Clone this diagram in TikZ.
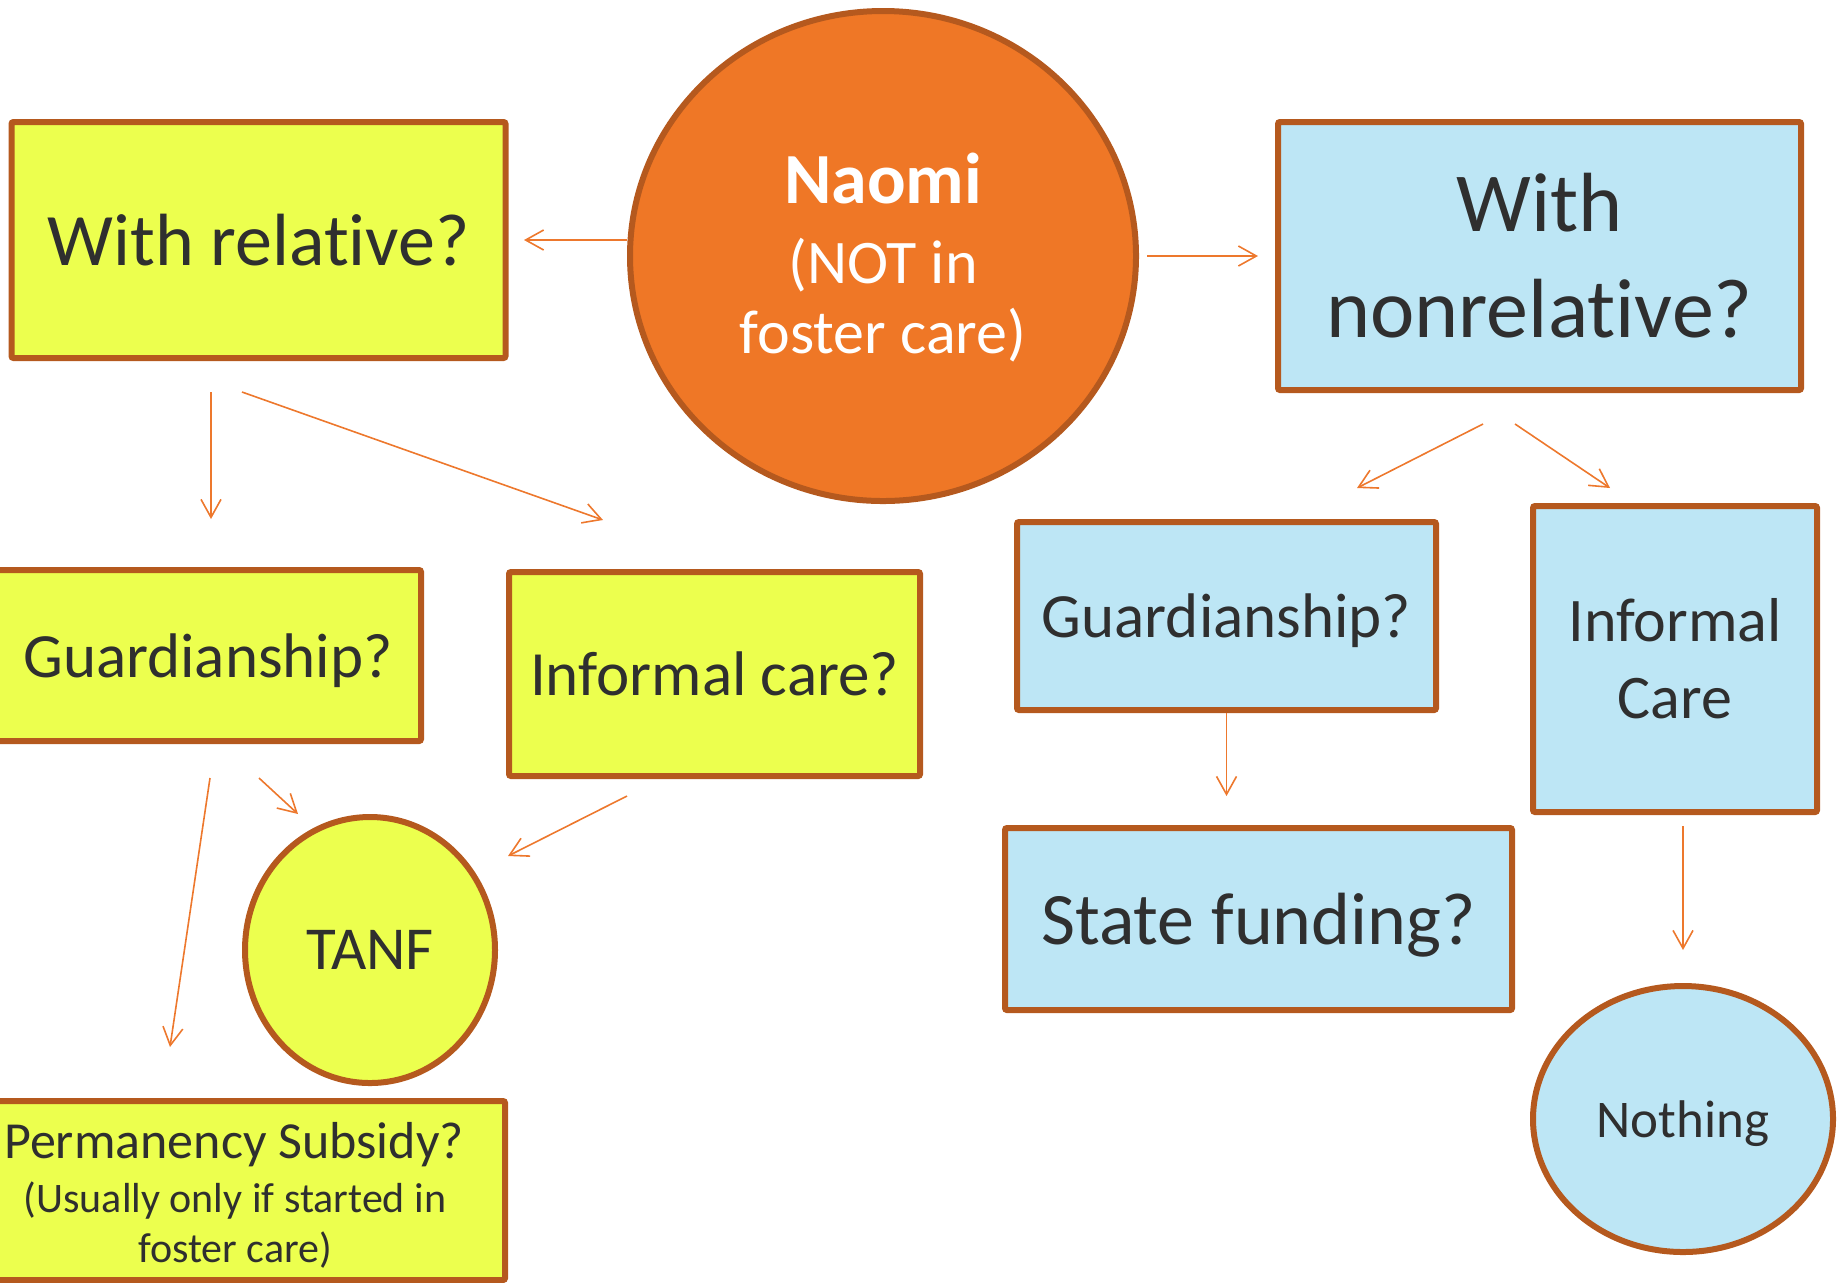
\documentclass[tikz,border=0pt]{standalone}
\usepackage{fontspec}
\setmainfont{Carlito}[RawFeature={-liga;-clig;-calt}]
\usetikzlibrary{arrows.meta,shapes.geometric,calc}
\definecolor{yelF}{RGB}{236,255,78}
\definecolor{bluF}{RGB}{189,230,245}
\definecolor{oraF}{RGB}{239,119,38}
\definecolor{brdC}{RGB}{181,89,30}
\definecolor{arrC}{RGB}{237,120,45}
\definecolor{txtC}{RGB}{47,47,47}
\tikzset{
  ybox/.style={rectangle, draw=brdC, line width=3pt, fill=yelF, text=txtC, inner sep=0pt, outer sep=0pt, align=center, rounded corners=1pt},
  bbox/.style={rectangle, draw=brdC, line width=3pt, fill=bluF, text=txtC, inner sep=0pt, outer sep=0pt, align=center, rounded corners=1pt},
  oval/.style={ellipse, draw=brdC, line width=3pt, text=txtC, inner sep=0pt, outer sep=0pt, align=center},
  lineText/.style={inner sep=0pt, anchor=base},
  arr/.style={draw=arrC, line width=0.8pt, -{Straight Barb[length=9pt,width=10pt,line width=0.8pt]}},
}
\begin{document}
\begin{tikzpicture}[x=0.5pt,y=-0.5pt]
\useasboundingbox (0,0) rectangle (1839,1282);
% nodes
\node[oval, fill=oraF, minimum width=253pt, minimum height=245pt] (naomi) at (883,256) {};
\node[lineText, text=white, font=\fontsize{36}{40}\selectfont\bfseries] (naomiA) at (883,203) {Naomi};
\node[lineText, text=white, font=\fontsize{31}{36}\selectfont] (naomiB) at (883,283) {(NOT in};
\node[lineText, text=white, font=\fontsize{31}{36}\selectfont] (naomiC) at (883,353) {foster care)};
\node[ybox, minimum width=247pt, minimum height=118pt, font=\fontsize{37}{44}\selectfont] (withrel) at (258.5,240) {With relative?};
\node[bbox, minimum width=261.5pt, minimum height=134pt, font=\fontsize{42}{53}\selectfont] (withnon) at (1539.5,256) {With\\nonrelative?};
\node[ybox, minimum width=213pt, minimum height=85.5pt, text depth=0pt, font=\fontsize{31.5}{38}\selectfont] (guardrel) at (208,655.5) {Guardianship?};
\node[ybox, minimum width=205.5pt, minimum height=102pt, font=\fontsize{31.5}{38}\selectfont] (infrel) at (714.5,674) {Informal care?};
\node[bbox, minimum width=209.5pt, minimum height=94pt, text depth=0pt, font=\fontsize{31.5}{38}\selectfont] (guardnon) at (1226.5,616) {Guardianship?};
\node[bbox, minimum width=142pt, minimum height=153pt, font=\fontsize{31}{38.5}\selectfont] (infnon) at (1675,659) {Informal\\Care};
\node[bbox, minimum width=253.5pt, minimum height=91pt, text depth=0pt, font=\fontsize{37}{44}\selectfont] (state) at (1258.5,919) {State funding?};
\node[oval, fill=yelF, minimum width=125pt, minimum height=133pt, font=\fontsize{30.5}{36}\selectfont] (tanf) at (370,950) {TANF};
\node[oval, fill=bluF, minimum width=150pt, minimum height=133pt, text depth=0pt, font=\fontsize{26.5}{32}\selectfont] (nothing) at (1683,1119) {Nothing};
\node[ybox, minimum width=271pt, minimum height=89.5pt] (perm) at (234,1190.5) {};
\node[lineText, text=txtC, font=\fontsize{26}{30}\selectfont] (permA) at (234,1158) {Permanency Subsidy?};
\node[lineText, text=txtC, font=\fontsize{21}{25}\selectfont] (permB) at (235,1212) {(Usually only if started in};
\node[lineText, text=txtC, font=\fontsize{21}{25}\selectfont] (permC) at (235,1262) {foster care)};
% connectors
\draw[arr] ($(naomi)+(-256,-16)$) -- ($(withrel)+(265.5,0)$);
\draw[arr] ($(naomi)+(264,0)$) -- ($(withnon)+(-281.5,0)$);
\draw[arr] ($(withrel)+(-47.5,152)$) -- ($(guardrel)+(3,-136.5)$);
\draw[arr] ($(withrel)+(-16.5,152)$) -- ($(infrel)+(-111.5,-154)$);
\draw[arr] ($(withnon)+(-56.5,168)$) -- ($(guardnon)+(130.5,-128)$);
\draw[arr] ($(withnon)+(-24.5,168)$) -- ($(infnon)+(-65,-171)$);
\draw[arr] ($(guardrel)+(2,122.5)$) -- ($(perm)+(-64,-143.5)$);
\draw[arr] ($(guardrel)+(51,122.5)$) -- ($(tanf)+(-72,-136)$);
\draw[arr] ($(infrel)+(-87.5,122)$) -- ($(tanf)+(138,-94)$);
\draw[arr] ($(guardnon)+(0,97)$) -- ($(state)+(-32,-123)$);
\draw[arr] ($(infnon)+(8,167)$) -- ($(nothing)+(0,-169)$);
\end{tikzpicture}
\end{document}
